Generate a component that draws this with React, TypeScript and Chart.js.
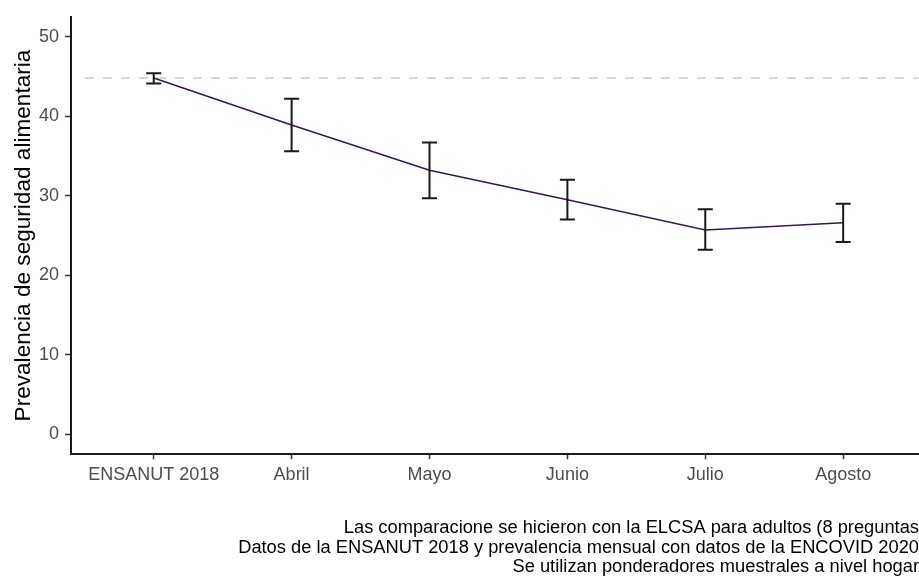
import React, { useEffect, useRef } from "react";
import { Chart, registerables } from "chart.js";

Chart.register(...registerables);

const categories = ["ENSANUT 2018", "Abril", "Mayo", "Junio", "Julio", "Agosto"];
const prevalence = [44.8, 38.9, 33.2, 29.5, 25.7, 26.6];
const lowerCI = [44.1, 35.6, 29.7, 27.0, 23.2, 24.2];
const upperCI = [45.4, 42.2, 36.7, 32.0, 28.3, 29.0];
const referenceValue = 44.8;
const yTicks = [0, 10, 20, 30, 40, 50];
const yAxisTitle = "Prevalencia de seguridad alimentaria";
const captionLines = [
  "Las comparacione se hicieron con la ELCSA para adultos (8 preguntas",
  "Datos de la ENSANUT 2018 y prevalencia mensual con datos de la ENCOVID 2020",
  "Se utilizan ponderadores muestrales a nivel hogar",
];

const FONT = "'Liberation Sans', Arial, Helvetica, sans-serif";

const refLinePlugin = {
  id: "refLine",
  beforeDatasetsDraw(chart: any) {
    const { ctx, chartArea, scales } = chart;
    const py = scales.y.getPixelForValue(referenceValue);
    ctx.save();
    ctx.strokeStyle = "#cfcfcf";
    ctx.lineWidth = 1.6;
    ctx.setLineDash([9, 9]);
    ctx.beginPath();
    ctx.moveTo(chartArea.left + 14, py);
    ctx.lineTo(chartArea.right, py);
    ctx.stroke();
    ctx.restore();
  },
};

const errorBarPlugin = {
  id: "errorBars",
  afterDatasetsDraw(chart: any) {
    const { ctx, scales } = chart;
    const xs = scales.x;
    const ys = scales.y;
    ctx.save();
    ctx.strokeStyle = "#1a1a1a";
    ctx.lineWidth = 2;
    const half = 7.5;
    categories.forEach((_, i) => {
      const px = xs.getPixelForValue(i);
      const yl = ys.getPixelForValue(lowerCI[i]);
      const yu = ys.getPixelForValue(upperCI[i]);
      ctx.beginPath();
      ctx.moveTo(px, yl);
      ctx.lineTo(px, yu);
      ctx.moveTo(px - half, yl);
      ctx.lineTo(px + half, yl);
      ctx.moveTo(px - half, yu);
      ctx.lineTo(px + half, yu);
      ctx.stroke();
    });
    ctx.restore();
  },
};

export default function App() {
  const canvasRef = useRef<HTMLCanvasElement | null>(null);

  useEffect(() => {
    document.body.style.margin = "0";
    const canvas = canvasRef.current;
    if (!canvas) return;
    const chart = new Chart(canvas, {
      type: "line",
      data: {
        datasets: [
          {
            data: categories.map((_, i) => ({ x: i, y: prevalence[i] })),
            borderColor: "#3b1650",
            borderWidth: 1.6,
            pointRadius: 0,
            tension: 0,
            fill: false,
          },
        ],
      },
      options: {
        animation: false,
        responsive: false,
        devicePixelRatio: 1,
        layout: { padding: { top: 8, left: 0, right: 0, bottom: 0 } },
        plugins: {
          legend: { display: false },
          tooltip: { enabled: false },
          title: {
            display: true,
            position: "bottom",
            align: "end",
            text: captionLines,
            color: "#000000",
            font: { family: FONT, size: 18.3, weight: "normal", lineHeight: 1.07 },
            padding: { top: 0, bottom: 0 },
          },
        },
        scales: {
          x: {
            type: "linear",
            min: -0.6,
            max: 5.55,
            afterBuildTicks: (scale: any) => {
              scale.ticks = categories.map((_, i) => ({ value: i }));
            },
            afterFit: (scale: any) => {
              scale.height = 64;
            },
            ticks: {
              autoSkip: false,
              maxRotation: 0,
              padding: 5,
              color: "#4d4d4d",
              font: { family: FONT, size: 18 },
              callback: (v: any) => categories[Math.round(Number(v))] ?? "",
            },
            grid: {
              display: true,
              drawOnChartArea: false,
              drawTicks: true,
              tickLength: 5,
              tickColor: "#333333",
              tickWidth: 1.5,
            },
            border: { display: true, color: "#1a1a1a", width: 2 },
          },
          y: {
            type: "linear",
            min: -2.5,
            max: 52.5,
            afterBuildTicks: (scale: any) => {
              scale.ticks = yTicks.map((v) => ({ value: v }));
            },
            afterFit: (scale: any) => {
              scale.width = 71;
            },
            ticks: {
              padding: 6,
              color: "#4d4d4d",
              font: { family: FONT, size: 18 },
            },
            grid: {
              display: true,
              drawOnChartArea: false,
              drawTicks: true,
              tickLength: 6,
              tickColor: "#333333",
              tickWidth: 1.5,
            },
            border: { display: true, color: "#1a1a1a", width: 2 },
            title: {
              display: true,
              text: yAxisTitle,
              color: "#000000",
              font: { family: FONT, size: 22.6, weight: "normal", lineHeight: 1.2 },
              padding: { top: 10, bottom: 0 },
            },
          },
        },
      },
      plugins: [refLinePlugin, errorBarPlugin],
    } as any);
    return () => chart.destroy();
  }, []);

  return (
    <canvas
      ref={canvasRef}
      width={919}
      height={577}
      style={{ display: "block", width: "919px", height: "577px" }}
    />
  );
}
